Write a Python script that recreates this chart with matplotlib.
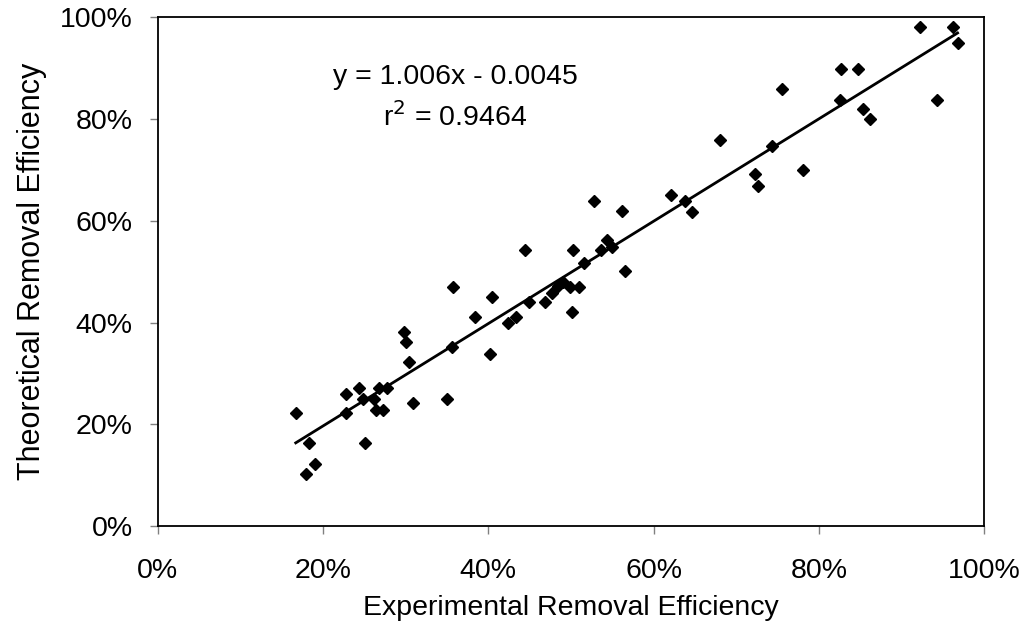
import numpy as np
import matplotlib
matplotlib.use("Agg")
import matplotlib.pyplot as plt
from matplotlib.ticker import FuncFormatter

plt.rcParams['font.family'] = ['Liberation Sans', 'DejaVu Sans']

# experimental vs theoretical removal efficiency (%)
experimental = [16.7, 18.3, 19.0, 18.0, 22.8, 22.8, 24.4, 24.8, 26.2, 26.4,
                27.3, 26.8, 27.8, 25.1, 29.8, 30.0, 30.4, 30.9, 35.0, 35.6,
                35.7, 38.4, 40.2, 40.4, 42.4, 43.3, 44.9, 44.4, 46.9, 47.7,
                48.5, 49.1, 49.9, 51.0, 50.1, 50.3, 51.6, 52.8, 53.7, 54.4,
                55.0, 56.2, 56.6, 62.1, 63.8, 64.7, 68.0, 72.3, 72.7, 74.3,
                75.6, 78.1, 82.7, 82.6, 84.7, 85.3, 86.2, 92.3, 94.3, 96.2,
                96.8]
theoretical = [22.2, 16.3, 12.2, 10.2, 25.9, 22.2, 27.1, 24.9, 25.0, 22.9,
               22.9, 27.1, 27.1, 16.3, 38.1, 36.1, 32.2, 24.1, 24.9, 35.1,
               47.0, 41.0, 33.9, 45.1, 39.9, 41.0, 44.1, 54.2, 44.1, 45.9,
               47.2, 48.0, 47.0, 47.0, 42.1, 54.2, 51.8, 63.9, 54.2, 56.2,
               54.9, 62.0, 50.1, 65.1, 63.8, 61.8, 75.9, 69.2, 66.8, 74.8,
               86.0, 70.0, 89.8, 83.7, 89.8, 81.9, 80.1, 98.2, 83.7, 98.2,
               95.0]

# trendline reported on the chart
slope = 1.006
intercept = -0.0045
r_squared = 0.9464

x = np.array(experimental) / 100
y = np.array(theoretical) / 100

fs = 20.5
fig = plt.figure(figsize=(10.29, 6.38), dpi=100)
ax = fig.add_axes([0.1533, 0.1755, 0.803, 0.7973])

ax.plot(x, y, linestyle='none', marker='D', markersize=5.8, color='black')

xs = np.array([x.min(), x.max()])
ax.plot(xs, slope * xs + intercept, color='black', linewidth=2)

ax.text(0.36, 0.883, "y = 1.006x - 0.0045", ha='center', va='center', fontsize=fs)
ax.text(0.36, 0.804, "r$^2$ = %.4f" % r_squared, ha='center', va='center', fontsize=fs)

ax.set_xlim(0, 1)
ax.set_ylim(0, 1)
ax.set_xticks(np.arange(0, 1.01, 0.2))
ax.set_yticks(np.arange(0, 1.01, 0.2))
pct = FuncFormatter(lambda v, p: "%d%%" % round(v * 100))
ax.xaxis.set_major_formatter(pct)
ax.yaxis.set_major_formatter(pct)
ax.tick_params(direction='out', length=6, width=1, color='#808080', labelsize=fs)
ax.tick_params(axis='x', pad=17)
ax.tick_params(axis='y', pad=12)

for s in ax.spines.values():
    s.set_linewidth(1.3)
    s.set_color('black')

ax.set_xlabel("Experimental Removal Efficiency", fontsize=fs, labelpad=8)
ax.set_ylabel("Theoretical Removal Efficiency", fontsize=22, labelpad=9)

fig.savefig("out.png", dpi=100)
